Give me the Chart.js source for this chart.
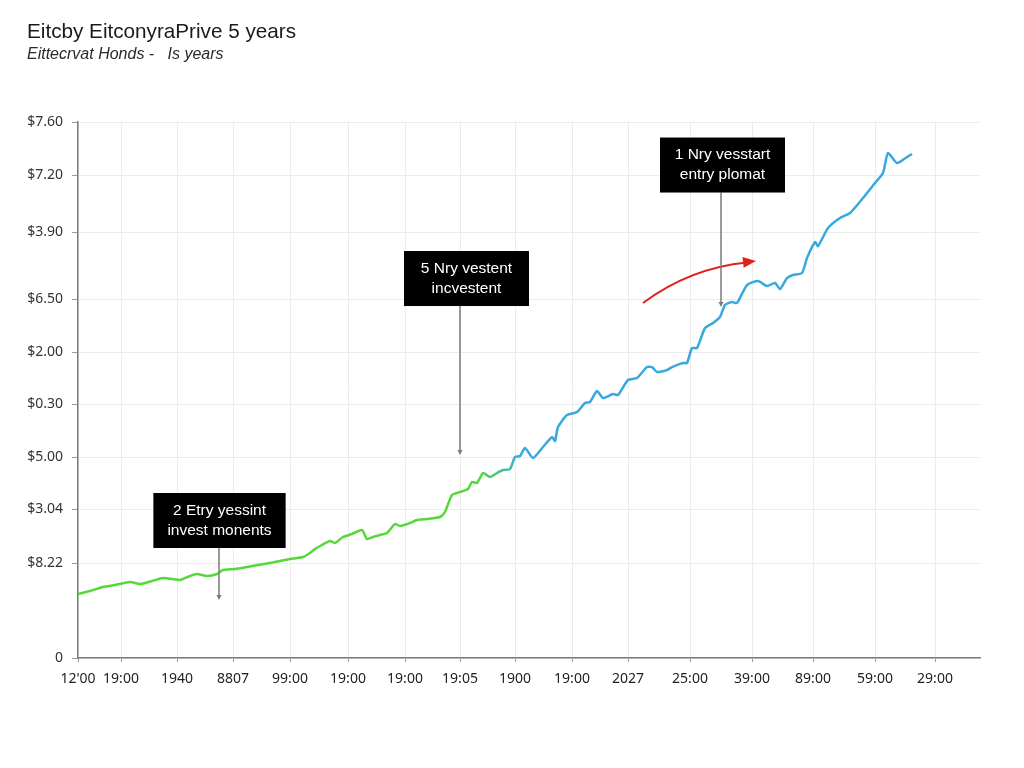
<!DOCTYPE html>
<html>
<head>
<meta charset="utf-8">
<script src="https://cdn.jsdelivr.net/npm/chart.js@4/dist/chart.umd.min.js"></script>
<style>
html,body{margin:0;padding:0;background:#fff;}
#wrap{width:1024px;height:768px;position:relative;}
</style>
</head>
<body>
<div id="wrap"><canvas id="c"></canvas></div>
<script>
// ---- data ----
const xValues = [0,12,25,37,52,62,74,85,94,102,112,119,129,139,145,157,169,180,192,202,212,225,232,237,244,252,257,265,274,284,289,295,302,309,317,322,332,339,349,362,367,374,382,390,394,399,405,412,419,425,432,437,442,447,455,465,474,477,480,489,499,507,512,519,525,535,540,550,559,569,574,579,589,594,605,609,614,619,627,635,642,647,654,659,669,680,689,697,702,709,715,724,729,737,740,750,762,772,785,797,805,810,819,829,834];
const priceValues = [64,67,71,73,76,74,77,80,79,78,82,84,82,84,88,89,91,93,95,97,99,101,105,109,113,117,115,121,124,128,119,121,123,125,134,132,135,138,139,141,146,163,166,169,176,175,185,181,185,188,189,201,202,210,200,211,221,217,231,243,246,255,256,267,260,264,263,278,280,291,291,286,288,291,295,295,310,310,330,335,341,353,356,355,373,377,372,375,369,380,383,385,400,416,412,430,440,445,460,475,485,505,495,501,504];

const yTickValues = [0,95,149,201,254,306,359,426,483,536];
const yTickLabels = ['0','$8.22','$3.04','$5.00','$0.30','$2.00','$6.50','$3.90','$7.20','$7.60'];
const xTickValues = [0,43,99,155,212,270,327,382,437,494,550,612,674,735,797,857];
const xTickLabels = ["12'00",'19:00','1940','8807','99:00','19:00','19:00','19:05','1900','19:00','2027','25:00','39:00','89:00','59:00','29:00'];

const titleText = 'Eitcby EitconyraPrive 5 years';
const subtitleText = 'Eittecrvat Honds -   Is years';

// callouts: tip (data units), box centre (data units), two text lines
const calloutTipX = [141, 382, 643];
const calloutTipY = [60, 205, 353];
const calloutBoxX = [141.5, 388.5, 644.5];
const calloutBoxY = [137.5, 379.5, 493];
const calloutLine1 = ['2 Etry yessint', '5 Nry vestent', '1 Nry vesstart'];
const calloutLine2 = ['invest monents', 'incvestent', 'entry plomat'];

// red trend arrow (data units): start, control, end
const arrowX = [565, 612, 678];
const arrowY = [355, 390, 397];

// ---- chart ----
const points = xValues.map((x, i) => ({x: x, y: priceValues[i]}));

const calloutPlugin = {
  id: 'callouts',
  afterDatasetsDraw(chart) {
    const {ctx, scales} = chart;
    const sx = scales.x, sy = scales.y;
    ctx.save();
    // red arrow
    const p0 = [sx.getPixelForValue(arrowX[0]), sy.getPixelForValue(arrowY[0])];
    const pc = [sx.getPixelForValue(arrowX[1]), sy.getPixelForValue(arrowY[1])];
    const p1 = [sx.getPixelForValue(arrowX[2]), sy.getPixelForValue(arrowY[2])];
    ctx.strokeStyle = '#e3211c';
    ctx.fillStyle = '#e3211c';
    ctx.lineWidth = 2;
    ctx.beginPath();
    ctx.moveTo(p0[0], p0[1]);
    ctx.quadraticCurveTo(pc[0], pc[1], p1[0] - 9, p1[1] + 1.5);
    ctx.stroke();
    const ang = Math.atan2(p1[1] - pc[1], p1[0] - pc[0]);
    ctx.beginPath();
    ctx.moveTo(p1[0], p1[1]);
    ctx.lineTo(p1[0] - 13 * Math.cos(ang) + 5.5 * Math.sin(ang), p1[1] - 13 * Math.sin(ang) - 5.5 * Math.cos(ang));
    ctx.lineTo(p1[0] - 13 * Math.cos(ang) - 5.5 * Math.sin(ang), p1[1] - 13 * Math.sin(ang) + 5.5 * Math.cos(ang));
    ctx.closePath();
    ctx.fill();

    // callout boxes
    ctx.font = '15.5px "Liberation Sans", Arial, sans-serif';
    ctx.textAlign = 'center';
    ctx.textBaseline = 'middle';
    for (let i = 0; i < calloutTipX.length; i++) {
      const tx = sx.getPixelForValue(calloutTipX[i]);
      const ty = sy.getPixelForValue(calloutTipY[i]);
      const bx = sx.getPixelForValue(calloutBoxX[i]);
      const by = sy.getPixelForValue(calloutBoxY[i]);
      const w1 = ctx.measureText(calloutLine1[i]).width;
      const w2 = ctx.measureText(calloutLine2[i]).width;
      const bw = Math.max(125, Math.max(w1, w2) + 28);
      const bh = 55;
      // leader
      ctx.strokeStyle = '#7a7a7a';
      ctx.fillStyle = '#7a7a7a';
      ctx.lineWidth = 1.5;
      ctx.beginPath();
      ctx.moveTo(tx, by + bh / 2);
      ctx.lineTo(tx, ty);
      ctx.stroke();
      ctx.beginPath();
      ctx.moveTo(tx, ty + 2);
      ctx.lineTo(tx - 2.5, ty - 3);
      ctx.lineTo(tx + 2.5, ty - 3);
      ctx.closePath();
      ctx.fill();
      // box
      ctx.fillStyle = '#000';
      ctx.fillRect(bx - bw / 2, by - bh / 2, bw, bh);
      ctx.fillStyle = '#fff';
      ctx.fillText(calloutLine1[i], bx, by - 10);
      ctx.fillText(calloutLine2[i], bx, by + 10);
    }
    ctx.restore();
  }
};

new Chart(document.getElementById('c'), {
  type: 'line',
  data: {
    datasets: [{
      data: points,
      borderWidth: 2.5,
      pointRadius: 0,
      tension: 0.2,
      fill: false,
      borderColor: function (context) {
        const chart = context.chart;
        const {ctx, chartArea, scales} = chart;
        if (!chartArea) return '#4fd13a';
        const x0 = scales.x.getPixelForValue(402);
        const x1 = scales.x.getPixelForValue(442);
        const g = ctx.createLinearGradient(x0, 0, x1, 0);
        g.addColorStop(0, '#55d83a');
        g.addColorStop(1, '#38a9de');
        return g;
      }
    }]
  },
  options: {
    responsive: true,
    maintainAspectRatio: false,
    animation: false,
    layout: {padding: {left: 27, right: 44, top: 0, bottom: 0}},
    plugins: {
      legend: {display: false},
      tooltip: {enabled: false},
      title: {
        display: true, text: titleText, align: 'start', color: '#1a1a1a',
        font: {family: '"Liberation Sans", Arial, sans-serif', size: 20.7, weight: 'normal', lineHeight: 1.2},
        padding: {top: 20, bottom: 0}
      },
      subtitle: {
        display: true, text: subtitleText, align: 'start', color: '#2a2a2a',
        font: {family: '"Liberation Sans", Arial, sans-serif', size: 16, style: 'italic', lineHeight: 1.2},
        padding: {top: 0, bottom: 58}
      }
    },
    scales: {
      x: {
        type: 'linear', min: 0, max: 902,
        afterBuildTicks: (axis) => { axis.ticks = xTickValues.map(v => ({value: v})); },
        afterFit: (scale) => { scale.height = 110; },
        ticks: {
          autoSkip: false, maxRotation: 0, padding: 9, color: '#222',
          font: {family: '"Noto Sans", sans-serif', size: 14},
          callback: (v, i) => xTickLabels[i]
        },
        grid: {color: '#ececec', tickColor: '#9a9a9a', tickLength: 4, lineWidth: 1},
        border: {color: '#7d7d7d', width: 1.5}
      },
      y: {
        type: 'linear', min: 0, max: 536,
        afterBuildTicks: (axis) => { axis.ticks = yTickValues.map(v => ({value: v})); },
        afterFit: (scale) => { scale.width = 51; },
        ticks: {
          autoSkip: false, padding: 9, color: '#333',
          font: {family: '"Noto Sans", sans-serif', size: 14},
          callback: (v, i) => yTickLabels[i]
        },
        grid: {color: '#ececec', tickColor: '#9a9a9a', tickLength: 6, lineWidth: 1},
        border: {color: '#7d7d7d', width: 1.5}
      }
    }
  },
  plugins: [calloutPlugin]
});
</script>
</body>
</html>
